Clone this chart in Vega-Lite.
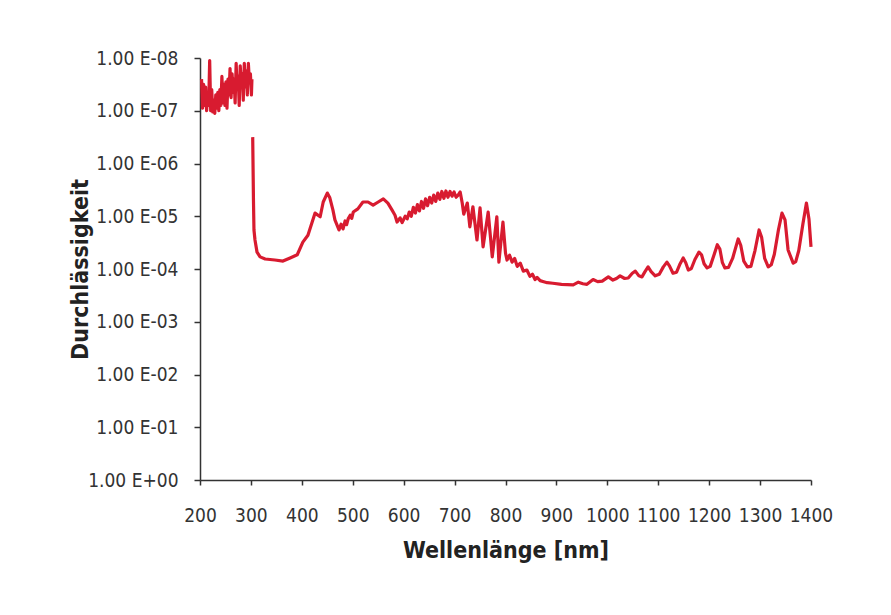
{
  "$schema": "https://vega.github.io/schema/vega-lite/v6.json",
  "autosize": {"type": "none"},
  "padding": {"left": 200, "top": 58, "right": 80, "bottom": 135},
  "width": 611,
  "height": 422,
  "background": "white",
  "config": {
    "view": {"stroke": null},
    "font": "'DejaVu Sans Condensed', Roboto, sans-serif"
  },
  "data": {
    "values": [
      {"seg": "a", "nm": 203, "od": 7.6}, {"seg": "a", "nm": 205, "od": 7.05}, {"seg": "a", "nm": 207, "od": 7.5}, {"seg": "a", "nm": 209, "od": 7.1},
      {"seg": "a", "nm": 211, "od": 7.45}, {"seg": "a", "nm": 213, "od": 7.0}, {"seg": "a", "nm": 215, "od": 7.3}, {"seg": "a", "nm": 217, "od": 7.1},
      {"seg": "a", "nm": 219, "od": 7.95}, {"seg": "a", "nm": 221, "od": 7.0}, {"seg": "a", "nm": 223, "od": 7.4}, {"seg": "a", "nm": 225, "od": 6.98},
      {"seg": "a", "nm": 227, "od": 7.2}, {"seg": "a", "nm": 229, "od": 6.95}, {"seg": "a", "nm": 231, "od": 7.3}, {"seg": "a", "nm": 233, "od": 7.05},
      {"seg": "a", "nm": 235, "od": 7.35}, {"seg": "a", "nm": 237, "od": 7.0}, {"seg": "a", "nm": 239, "od": 7.4}, {"seg": "a", "nm": 241, "od": 7.1},
      {"seg": "a", "nm": 243, "od": 7.65}, {"seg": "a", "nm": 245, "od": 7.15}, {"seg": "a", "nm": 247, "od": 7.5}, {"seg": "a", "nm": 249, "od": 7.1},
      {"seg": "a", "nm": 251, "od": 7.55}, {"seg": "a", "nm": 253, "od": 7.05}, {"seg": "a", "nm": 255, "od": 7.6}, {"seg": "a", "nm": 257, "od": 7.3},
      {"seg": "a", "nm": 259, "od": 7.8}, {"seg": "a", "nm": 261, "od": 7.25}, {"seg": "a", "nm": 263, "od": 7.7}, {"seg": "a", "nm": 265, "od": 7.35},
      {"seg": "a", "nm": 267, "od": 7.6}, {"seg": "a", "nm": 269, "od": 7.15}, {"seg": "a", "nm": 271, "od": 7.9}, {"seg": "a", "nm": 273, "od": 7.4},
      {"seg": "a", "nm": 275, "od": 7.65}, {"seg": "a", "nm": 277, "od": 7.1}, {"seg": "a", "nm": 279, "od": 7.85}, {"seg": "a", "nm": 281, "od": 7.5},
      {"seg": "a", "nm": 283, "od": 7.7}, {"seg": "a", "nm": 285, "od": 7.2}, {"seg": "a", "nm": 287, "od": 7.9}, {"seg": "a", "nm": 289, "od": 7.45},
      {"seg": "a", "nm": 291, "od": 7.75}, {"seg": "a", "nm": 293, "od": 7.3}, {"seg": "a", "nm": 295, "od": 7.9}, {"seg": "a", "nm": 297, "od": 7.55},
      {"seg": "a", "nm": 299, "od": 7.7}, {"seg": "a", "nm": 301, "od": 7.3}, {"seg": "a", "nm": 302, "od": 7.6},

      {"seg": "b", "nm": 303.5, "od": 6.5}, {"seg": "b", "nm": 305, "od": 5.31}, {"seg": "b", "nm": 306, "od": 4.74}, {"seg": "b", "nm": 308, "od": 4.55},
      {"seg": "b", "nm": 312, "od": 4.32}, {"seg": "b", "nm": 318, "od": 4.23}, {"seg": "b", "nm": 328, "od": 4.19}, {"seg": "b", "nm": 347, "od": 4.17},
      {"seg": "b", "nm": 363, "od": 4.15}, {"seg": "b", "nm": 377, "od": 4.21}, {"seg": "b", "nm": 391, "od": 4.27}, {"seg": "b", "nm": 402, "od": 4.51},
      {"seg": "b", "nm": 412, "od": 4.64}, {"seg": "b", "nm": 426, "od": 5.06}, {"seg": "b", "nm": 436, "od": 4.99}, {"seg": "b", "nm": 442, "od": 5.27},
      {"seg": "b", "nm": 450, "od": 5.44}, {"seg": "b", "nm": 455, "od": 5.35}, {"seg": "b", "nm": 461, "od": 5.12}, {"seg": "b", "nm": 465, "od": 4.93},
      {"seg": "b", "nm": 473, "od": 4.74}, {"seg": "b", "nm": 477, "od": 4.85}, {"seg": "b", "nm": 481, "od": 4.76}, {"seg": "b", "nm": 485, "od": 4.91},
      {"seg": "b", "nm": 488, "od": 4.84}, {"seg": "b", "nm": 491, "od": 4.95}, {"seg": "b", "nm": 495, "od": 5.02}, {"seg": "b", "nm": 498, "od": 4.96},
      {"seg": "b", "nm": 501, "od": 5.08}, {"seg": "b", "nm": 510, "od": 5.14}, {"seg": "b", "nm": 520, "od": 5.27}, {"seg": "b", "nm": 530, "od": 5.27},
      {"seg": "b", "nm": 540, "od": 5.21}, {"seg": "b", "nm": 550, "od": 5.27}, {"seg": "b", "nm": 560, "od": 5.33}, {"seg": "b", "nm": 569, "od": 5.25},
      {"seg": "b", "nm": 577, "od": 5.12}, {"seg": "b", "nm": 583, "od": 5.02}, {"seg": "b", "nm": 587, "od": 4.89}, {"seg": "b", "nm": 593, "od": 4.97},
      {"seg": "b", "nm": 597, "od": 4.88}, {"seg": "b", "nm": 603, "od": 5.0}, {"seg": "b", "nm": 607, "od": 4.95}, {"seg": "b", "nm": 611, "od": 5.08},
      {"seg": "b", "nm": 615, "od": 5.0}, {"seg": "b", "nm": 619, "od": 5.17}, {"seg": "b", "nm": 623, "od": 5.06}, {"seg": "b", "nm": 627, "od": 5.22},
      {"seg": "b", "nm": 631, "od": 5.1}, {"seg": "b", "nm": 635, "od": 5.28}, {"seg": "b", "nm": 639, "od": 5.15}, {"seg": "b", "nm": 643, "od": 5.33},
      {"seg": "b", "nm": 647, "od": 5.2}, {"seg": "b", "nm": 651, "od": 5.36}, {"seg": "b", "nm": 655, "od": 5.25}, {"seg": "b", "nm": 659, "od": 5.4},
      {"seg": "b", "nm": 663, "od": 5.28}, {"seg": "b", "nm": 667, "od": 5.44}, {"seg": "b", "nm": 671, "od": 5.32}, {"seg": "b", "nm": 675, "od": 5.47},
      {"seg": "b", "nm": 679, "od": 5.34}, {"seg": "b", "nm": 683, "od": 5.48}, {"seg": "b", "nm": 687, "od": 5.36}, {"seg": "b", "nm": 691, "od": 5.47},
      {"seg": "b", "nm": 695, "od": 5.38}, {"seg": "b", "nm": 699, "od": 5.46}, {"seg": "b", "nm": 703, "od": 5.36}, {"seg": "b", "nm": 707, "od": 5.4},
      {"seg": "b", "nm": 711, "od": 5.46}, {"seg": "b", "nm": 715, "od": 5.25}, {"seg": "b", "nm": 718, "od": 5.04}, {"seg": "b", "nm": 725, "od": 5.25},
      {"seg": "b", "nm": 730, "od": 4.8}, {"seg": "b", "nm": 736, "od": 5.18}, {"seg": "b", "nm": 744, "od": 4.55}, {"seg": "b", "nm": 750, "od": 5.16},
      {"seg": "b", "nm": 756, "od": 4.42}, {"seg": "b", "nm": 766, "od": 5.08}, {"seg": "b", "nm": 774, "od": 4.23}, {"seg": "b", "nm": 783, "od": 4.99},
      {"seg": "b", "nm": 787, "od": 4.13}, {"seg": "b", "nm": 795, "od": 4.89}, {"seg": "b", "nm": 800, "od": 4.3}, {"seg": "b", "nm": 803, "od": 4.17},
      {"seg": "b", "nm": 808, "od": 4.26}, {"seg": "b", "nm": 813, "od": 4.13}, {"seg": "b", "nm": 818, "od": 4.2}, {"seg": "b", "nm": 823, "od": 4.05},
      {"seg": "b", "nm": 829, "od": 4.11}, {"seg": "b", "nm": 835, "od": 3.96}, {"seg": "b", "nm": 842, "od": 3.98}, {"seg": "b", "nm": 848, "od": 3.86},
      {"seg": "b", "nm": 853, "od": 3.9}, {"seg": "b", "nm": 858, "od": 3.8}, {"seg": "b", "nm": 862, "od": 3.84}, {"seg": "b", "nm": 868, "od": 3.78},
      {"seg": "b", "nm": 875, "od": 3.76}, {"seg": "b", "nm": 882, "od": 3.74}, {"seg": "b", "nm": 893, "od": 3.73}, {"seg": "b", "nm": 910, "od": 3.71},
      {"seg": "b", "nm": 933, "od": 3.7}, {"seg": "b", "nm": 943, "od": 3.75}, {"seg": "b", "nm": 952, "od": 3.72}, {"seg": "b", "nm": 960, "od": 3.71},
      {"seg": "b", "nm": 972, "od": 3.8}, {"seg": "b", "nm": 981, "od": 3.76}, {"seg": "b", "nm": 990, "od": 3.77},
      {"seg": "b", "nm": 1002, "od": 3.85}, {"seg": "b", "nm": 1011, "od": 3.79}, {"seg": "b", "nm": 1018, "od": 3.82}, {"seg": "b", "nm": 1025, "od": 3.87},
      {"seg": "b", "nm": 1034, "od": 3.82}, {"seg": "b", "nm": 1041, "od": 3.83}, {"seg": "b", "nm": 1049, "od": 3.92}, {"seg": "b", "nm": 1055, "od": 3.96},
      {"seg": "b", "nm": 1062, "od": 3.87}, {"seg": "b", "nm": 1068, "od": 3.85}, {"seg": "b", "nm": 1074, "od": 3.95}, {"seg": "b", "nm": 1080, "od": 4.04},
      {"seg": "b", "nm": 1086, "od": 3.95}, {"seg": "b", "nm": 1094, "od": 3.87}, {"seg": "b", "nm": 1102, "od": 3.9}, {"seg": "b", "nm": 1110, "od": 4.04},
      {"seg": "b", "nm": 1117, "od": 4.13}, {"seg": "b", "nm": 1122, "od": 4.06}, {"seg": "b", "nm": 1129, "od": 3.92}, {"seg": "b", "nm": 1136, "od": 3.94},
      {"seg": "b", "nm": 1143, "od": 4.1}, {"seg": "b", "nm": 1149, "od": 4.21}, {"seg": "b", "nm": 1154, "od": 4.12}, {"seg": "b", "nm": 1159, "od": 3.98},
      {"seg": "b", "nm": 1165, "od": 4.01}, {"seg": "b", "nm": 1172, "od": 4.18}, {"seg": "b", "nm": 1180, "od": 4.32}, {"seg": "b", "nm": 1185, "od": 4.27},
      {"seg": "b", "nm": 1190, "od": 4.1}, {"seg": "b", "nm": 1196, "od": 4.02}, {"seg": "b", "nm": 1202, "od": 4.05}, {"seg": "b", "nm": 1209, "od": 4.25},
      {"seg": "b", "nm": 1216, "od": 4.46}, {"seg": "b", "nm": 1221, "od": 4.38}, {"seg": "b", "nm": 1226, "od": 4.12}, {"seg": "b", "nm": 1231, "od": 4.02},
      {"seg": "b", "nm": 1238, "od": 4.03}, {"seg": "b", "nm": 1246, "od": 4.2}, {"seg": "b", "nm": 1257, "od": 4.57}, {"seg": "b", "nm": 1262, "od": 4.45},
      {"seg": "b", "nm": 1268, "od": 4.15}, {"seg": "b", "nm": 1275, "od": 4.04}, {"seg": "b", "nm": 1282, "od": 4.05}, {"seg": "b", "nm": 1290, "od": 4.35},
      {"seg": "b", "nm": 1298, "od": 4.74}, {"seg": "b", "nm": 1303, "od": 4.6}, {"seg": "b", "nm": 1309, "od": 4.2}, {"seg": "b", "nm": 1316, "od": 4.04},
      {"seg": "b", "nm": 1322, "od": 4.08}, {"seg": "b", "nm": 1328, "od": 4.28}, {"seg": "b", "nm": 1336, "od": 4.74}, {"seg": "b", "nm": 1343, "od": 5.06},
      {"seg": "b", "nm": 1349, "od": 4.93}, {"seg": "b", "nm": 1355, "od": 4.36}, {"seg": "b", "nm": 1365, "od": 4.11}, {"seg": "b", "nm": 1370, "od": 4.14},
      {"seg": "b", "nm": 1376, "od": 4.35}, {"seg": "b", "nm": 1384, "od": 4.85}, {"seg": "b", "nm": 1391, "od": 5.25}, {"seg": "b", "nm": 1396, "od": 4.95},
      {"seg": "b", "nm": 1400, "od": 4.42}
    ]
  },
  "mark": {"type": "line", "color": "#d81b30", "strokeWidth": 3.2, "strokeJoin": "round", "clip": false},
  "encoding": {
    "detail": {"field": "seg"},
    "x": {
      "field": "nm", "type": "quantitative",
      "scale": {"domain": [200, 1400], "nice": false, "zero": false},
      "axis": {
        "title": "Wellenlänge [nm]",
        "values": [200, 300, 400, 500, 600, 700, 800, 900, 1000, 1100, 1200, 1300, 1400],
        "format": "d",
        "grid": false,
        "domainColor": "#333333", "domainWidth": 1.5,
        "tickColor": "#333333", "tickWidth": 1.5, "tickSize": 5,
        "labelFont": "'DejaVu Sans Condensed', Roboto, sans-serif", "labelFontSize": 19, "labelColor": "#333333",
        "labelPadding": 21, "labelFlush": false,
        "titleFont": "'DejaVu Sans Condensed', Roboto, sans-serif", "titleFontSize": 23, "titleFontWeight": "bold", "titleColor": "#222222",
        "titlePadding": 14
      }
    },
    "y": {
      "field": "od", "type": "quantitative",
      "scale": {"domain": [0, 8], "nice": false, "zero": false},
      "axis": {
        "title": "Durchlässigkeit",
        "titleX": -108,
        "values": [0, 1, 2, 3, 4, 5, 6, 7, 8],
        "labelExpr": "datum.value == 0 ? '1.00 E+00' : '1.00 E-0' + datum.value",
        "grid": false,
        "domainColor": "#333333", "domainWidth": 1.5,
        "tickColor": "#333333", "tickWidth": 1.5, "tickSize": 6,
        "labelFont": "'DejaVu Sans Condensed', Roboto, sans-serif", "labelFontSize": 19, "labelColor": "#333333",
        "labelPadding": 16,
        "titleFont": "'DejaVu Sans Condensed', Roboto, sans-serif", "titleFontSize": 23, "titleFontWeight": "bold", "titleColor": "#222222"
      }
    }
  }
}
